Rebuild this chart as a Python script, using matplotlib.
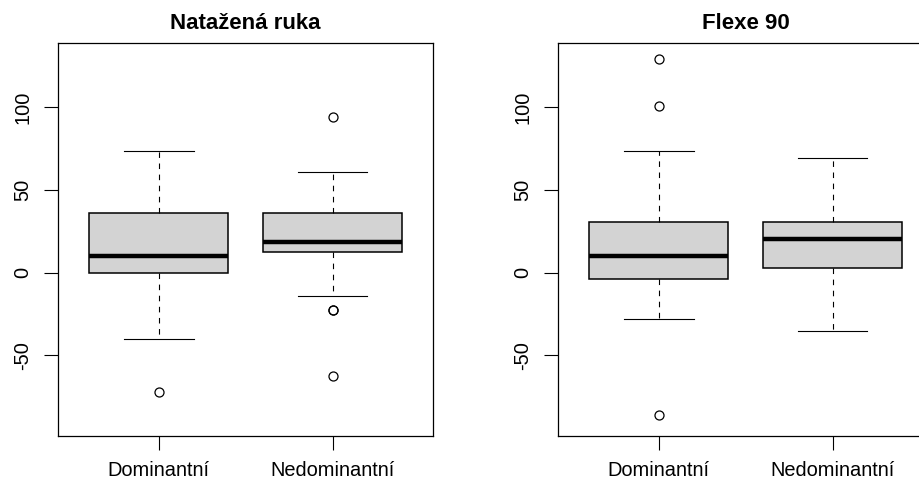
import matplotlib
matplotlib.use("Agg")
import matplotlib.pyplot as plt

plt.rcParams['font.family'] = ['Liberation Sans', 'DejaVu Sans']

groups = ["Dominantní", "Nedominantní"]

# Natažená ruka
nat_whislo = [-40.3, -14.5]
nat_q1 = [0.0, 12.7]
nat_med = [10.0, 18.7]
nat_q3 = [36.3, 36.3]
nat_whishi = [73.6, 60.7]
nat_fliers = [[-72.5], [94.1, -22.4, -22.8, -62.9]]

# Flexe 90
flx_whislo = [-28.4, -35.3]
flx_q1 = [-3.8, 3.0]
flx_med = [10.0, 20.6]
flx_q3 = [30.5, 30.5]
flx_whishi = [73.6, 69.5]
flx_fliers = [[129.4, 100.8, -86.2], []]

titles = ["Natažená ruka", "Flexe 90"]
y_range = (-90, 130)
y_ticks = [-50, 0, 50, 100]


def stats_for(whislo, q1, med, q3, whishi, fliers):
    return [dict(whislo=a, q1=b, med=c, q3=d, whishi=e, fliers=f, label=g)
            for a, b, c, d, e, f, g in zip(whislo, q1, med, q3, whishi, fliers, groups)]


panels = [
    stats_for(nat_whislo, nat_q1, nat_med, nat_q3, nat_whishi, nat_fliers),
    stats_for(flx_whislo, flx_q1, flx_med, flx_q3, flx_whishi, flx_fliers),
]

W, H = 920, 482
fig = plt.figure(figsize=(W / 100, H / 100), dpi=100)

ax_bottom = 1 - 435.7 / H
ax_height = (435.7 - 43.3) / H
ax_width = 375.3 / W
lefts = [58 / W, 558 / W]

span = y_range[1] - y_range[0]
ylim = (y_range[0] - 0.04 * span, y_range[1] + 0.04 * span)

for left, stats, title in zip(lefts, panels, titles):
    ax = fig.add_axes([left, ax_bottom, ax_width, ax_height])
    ax.bxp(
        stats,
        positions=[1, 2],
        widths=0.8,
        patch_artist=True,
        boxprops=dict(facecolor="#D3D3D3", edgecolor="black", linewidth=1.1),
        medianprops=dict(color="black", linewidth=3.2, solid_capstyle="butt"),
        whiskerprops=dict(color="black", linewidth=0.8, linestyle=(0, (5, 5))),
        capprops=dict(color="black", linewidth=0.8),
        capwidths=0.4,
        flierprops=dict(marker="o", markerfacecolor="none", markeredgecolor="black",
                        markersize=6.5, markeredgewidth=0.9),
    )
    ax.set_xlim(0.42, 2.58)
    ax.set_ylim(*ylim)
    ax.set_yticks(y_ticks)
    ax.set_yticklabels([str(t) for t in y_ticks], rotation=90, va="center")
    ax.set_xticks([1, 2])
    ax.set_xticklabels(groups)
    ax.tick_params(axis="both", length=10, width=0.8, labelsize=14.4, color="black")
    ax.tick_params(axis="y", pad=8.5)
    ax.tick_params(axis="x", pad=8)
    for s in ax.spines.values():
        s.set_linewidth(0.9)
        s.set_color("black")
    ax.set_title(title, fontsize=16, fontweight="bold", pad=10)

fig.savefig("out.png", dpi=100)
